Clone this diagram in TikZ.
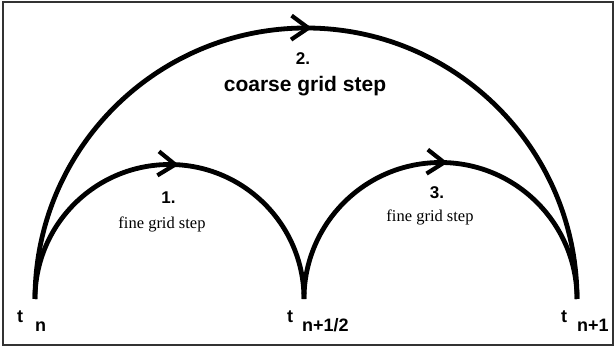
\documentclass[tikz,border=0pt]{standalone}
\usepackage{fontspec}
\setmainfont{Liberation Serif}
\setsansfont{Liberation Sans}
\usetikzlibrary{arrows.meta,decorations.markings}
\begin{document}
\begin{tikzpicture}[x=1pt,y=-1pt,
  arcline/.style={line width=4.8pt},
  arrowat/.style={postaction={decorate},decoration={markings,mark=at position #1 with {\arrow{Straight Barb[length=17pt,width=24pt,line width=4.2pt]}}}},
  numlbl/.style={inner sep=0pt,anchor=base,font=\sffamily\bfseries\fontsize{17}{20}\selectfont},
  biglbl/.style={inner sep=0pt,anchor=base,font=\sffamily\bfseries\fontsize{21}{24}\selectfont},
  finelbl/.style={inner sep=0pt,anchor=base,font=\rmfamily\fontsize{16.5}{19}\selectfont},
  tlbl/.style={inner sep=0pt,anchor=base west,font=\sffamily\bfseries\fontsize{18}{20}\selectfont},
  framebox/.style={draw=black!80,line width=1.1pt}]
\useasboundingbox (0,0) rectangle (616,350);
\draw[framebox] (3,2) rectangle (613,345);
\coordinate (tn) at (35,299);
\coordinate (th) at (304,299);
\coordinate (tn1) at (577,299);
% arcs
\draw[arcline,arrowat=0.507] (tn) arc[start angle=180,end angle=0,radius=271pt];
\draw[arcline,arrowat=0.522] (tn) arc[start angle=180,end angle=0,radius=134.5pt];
\draw[arcline,arrowat=0.517] (th) arc[start angle=180,end angle=0,radius=136.5pt];
% step labels
\node[numlbl] (n2) at (303,65) {2.};
\node[biglbl] (c2) at (305,92) {coarse grid step};
\node[numlbl] (n1) at (168.5,204) {1.};
\node[finelbl] (f1) at (162,228) {fine grid step};
\node[numlbl] (n3) at (437,198) {3.};
\node[finelbl] (f3) at (430,222) {fine grid step};
% time labels
\node[tlbl] (ltn) at (17,322) {t};
\node[tlbl] (ltns) at (35,331) {n};
\node[tlbl] (lth) at (287,322) {t};
\node[tlbl] (lths) at (302,331) {n+1/2};
\node[tlbl] (ltn1) at (561,322) {t};
\node[tlbl] (ltn1s) at (577,331) {n+1};
\end{tikzpicture}
\end{document}
